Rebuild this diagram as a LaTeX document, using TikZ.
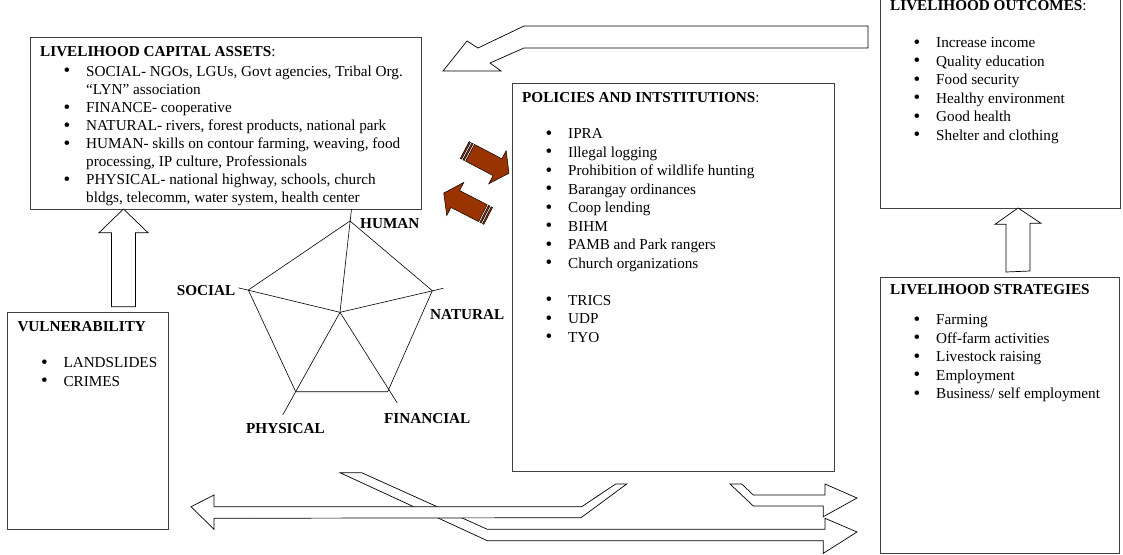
\documentclass[tikz,border=0pt]{standalone}
\usepackage{fontspec}
\setmainfont{Liberation Serif}
\usetikzlibrary{calc,positioning}

\definecolor{rust}{HTML}{993300}

\tikzset{
  panel/.style={draw=black!75, line width=0.9pt, anchor=north west, inner sep=0pt, outer sep=0pt},
  listing/.style={anchor=north west, align=left, inner sep=0pt, font=\fontsize{15.2}{18.5}\selectfont},
  corner/.style={anchor=west, inner sep=0pt, font=\fontsize{15.2}{18.5}\selectfont\bfseries},
  block/.style={draw=black, fill=white, line width=0.7pt, line join=miter},
  pics/stripedarrow/.style={code={
    \filldraw[fill=rust, draw=black, line width=0.5pt] (6,-9.5) -- (37,-9.5) -- (37,-18.7) -- (50,0)
      -- (37,18.7) -- (37,9.5) -- (6,9.5) -- cycle;
    \filldraw[fill=rust, draw=black, line width=0.5pt] (0,-9.5) rectangle (1.5,9.5);
    \filldraw[fill=rust, draw=black, line width=0.5pt] (3,-9.5) rectangle (4.5,9.5);
  }}
}

\newcommand{\itm}{\hspace*{23.5pt}\makebox[22.5pt][l]{\raisebox{-0.6pt}{\fontsize{19}{18.5}\selectfont\textbullet}}}
\newcommand{\cnt}{\hspace*{46pt}}

\begin{document}
\begin{tikzpicture}[x=1pt,y=-1pt]
  \clip (0,0) rectangle (1123,554);

  % frames
  \node[panel, minimum width=391pt, minimum height=172pt] (assets) at (30,37) {};
  \node[panel, minimum width=322pt, minimum height=388pt] (policies) at (512,83) {};
  \node[panel, minimum width=240pt, minimum height=228pt] (outcomes) at (880,-20) {};
  \node[panel, minimum width=239pt, minimum height=276pt] (strategies) at (880,277) {};
  \node[panel, minimum width=161pt, minimum height=217pt] (vulner) at (7.3,312.3) {};

  % texts
  \node[listing, font=\fontsize{15.2}{18.1}\selectfont] (assetsTxt) at ([shift={(10,9)}]assets.north west)
    {\textbf{LIVELIHOOD CAPITAL ASSETS}:\\[1.9pt]
     \itm SOCIAL- NGOs, LGUs, Govt agencies, Tribal Org.\\
     \cnt “LYN” association\\
     \itm FINANCE- cooperative\\
     \itm NATURAL- rivers, forest products, national park\\
     \itm HUMAN- skills on contour farming, weaving, food\\
     \cnt processing, IP culture, Professionals\\
     \itm PHYSICAL- national highway, schools, church\\
     \cnt bldgs, telecomm, water system, health center};

  \node[listing] (policiesTxt) at ([shift={(10,9.3)}]policies.north west)
    {\textbf{POLICIES AND INTSTITUTIONS}:\\[17.5pt]
     \itm IPRA\\
     \itm Illegal logging\\
     \itm Prohibition of wildlife hunting\\
     \itm Barangay ordinances\\
     \itm Coop lending\\
     \itm BIHM\\
     \itm PAMB and Park rangers\\
     \itm Church organizations\\[18.5pt]
     \itm TRICS\\
     \itm UDP\\
     \itm TYO};

  \node[listing] (outcomesTxt) at ([shift={(10,20.3)}]outcomes.north west)
    {\textbf{LIVELIHOOD OUTCOMES}:\\[18.8pt]
     \itm Increase income\\
     \itm Quality education\\
     \itm Food security\\
     \itm Healthy environment\\
     \itm Good health\\
     \itm Shelter and clothing};

  \node[listing] (strategiesTxt) at ([shift={(10,7.3)}]strategies.north west)
    {\textbf{LIVELIHOOD STRATEGIES}\\[11.8pt]
     \itm Farming\\
     \itm Off-farm activities\\
     \itm Livestock raising\\
     \itm Employment\\
     \itm Business/ self employment};

  \node[listing] (vulnerTxt) at ([shift={(10,9)}]vulner.north west)
    {\textbf{VULNERABILITY}\\[17.8pt]
     \itm LANDSLIDES\\
     \itm CRIMES};

  % pentagon
  \coordinate (C) at (340,312.3);
  \coordinate (H) at (350,221);
  \coordinate (N) at (432.3,290.7);
  \coordinate (F) at (387.7,391.7);
  \coordinate (P) at (295.7,391.7);
  \coordinate (S) at (248.3,290);
  \coordinate (He) at (351.5,209);
  \coordinate (Ne) at (443.3,288.3);
  \coordinate (Fe) at (397.3,403);
  \coordinate (Pe) at (282.7,415);
  \coordinate (Se) at (238.3,287.8);

  \draw[line width=0.6pt] (H) -- (N) -- (F) -- (P) -- (S) -- cycle;
  \draw[line width=0.6pt] (C) -- (He);
  \draw[line width=0.6pt] (C) -- (Ne);
  \draw[line width=0.6pt] (C) -- (Fe);
  \draw[line width=0.6pt] (C) -- (Pe);
  \draw[line width=0.6pt] (C) -- (Se);

  \node[corner] (lblHuman) at (360,223.5) {HUMAN};
  \node[corner] (lblSocial) at (176.7,291) {SOCIAL};
  \node[corner] (lblNatural) at (430,314.3) {NATURAL};
  \node[corner] (lblFinancial) at (384,418.3) {FINANCIAL};
  \node[corner] (lblPhysical) at (246,429) {PHYSICAL};

  % up arrows
  \coordinate (vulFoot) at (123.5,306.7);
  \draw[block] (vulFoot) ++(-12,0) -- ++(0,-74) -- ++(-12.5,0) -- (assets.south -| vulFoot)
    -- ++(24.5,23.7) -- ++(-12.5,0) -- ++(0,74) -- cycle;
  \coordinate (strFoot) at (1018,272);
  \draw[block] (strFoot) ++(-12,0) -- ++(0,-47.7) -- ++(-11,0) -- (outcomes.south -| strFoot)
    -- ++(23,15.3) -- ++(-11,0) -- ++(0,47.7) -- cycle;

  % outcomes back to assets
  \draw[block] (443,71) -- (467,41) -- (478,48) -- (524,26) -- (868,26) -- (868,48)
    -- (524,48) -- (490,63) -- (501,71) -- cycle;

  % assets <-> policies
  \pic[rotate=-27.7] (toPol) at (464.7,150) {stripedarrow};
  \pic[rotate=152.8] (toAss) at (488.2,215.9) {stripedarrow};

  % bottom arrows
  \draw[block] (340,472.7) -- (361.7,472.7) -- (487.3,529.3) -- (825,529.3) -- (825,518.3)
    -- (857,532) -- (823.3,553.3) -- (823.3,540.7) -- (487.3,540.7) -- cycle;
  \draw[block] (615.7,484) -- (626.7,484) -- (581,517.7) -- (214,518.3) -- (214,529.3)
    -- (191,506.7) -- (214,495) -- (214,506.7) -- (581.7,506.7) -- cycle;
  \draw[block] (730,484) -- (741.7,484) -- (753.3,495) -- (825,495) -- (825,484)
    -- (857,498) -- (823.3,516.7) -- (823.3,506) -- (753.3,506) -- cycle;
\end{tikzpicture}
\end{document}
